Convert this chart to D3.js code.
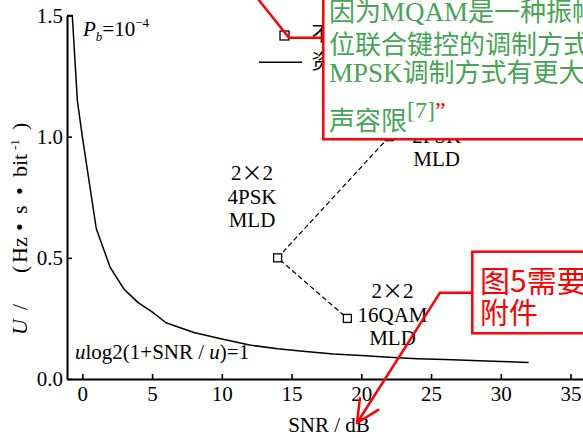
<!DOCTYPE html>
<html>
<head>
<meta charset="utf-8">
<script src="https://cdn.jsdelivr.net/npm/d3@7"></script>
<style>
  html, body { margin: 0; padding: 0; background: #fff; overflow: hidden; }
  svg { display: block; }
</style>
</head>
<body>
<svg id="chart" width="583" height="438"></svg>
<script>
// Shannon-type bound u·log2(1 + SNR/u) = 1, Pb = 1e-4
const snrDb = [-1.1, -0.72, -0.36, 0, 1, 2, 3, 4, 5, 6, 8, 10, 12, 14, 16, 18, 20, 22, 24, 26, 28, 30, 32];
const uBound = [1.5, 1.5, 1.15, 1.0, 0.62, 0.46, 0.37, 0.315, 0.277, 0.232, 0.192, 0.165, 0.14, 0.125, 0.113, 0.103, 0.097, 0.09, 0.084, 0.08, 0.076, 0.072, 0.068];

// 2x2 MIMO operating points (MLD detection)
const pointLabels = [["2×2", "2PSK", "MLD"], ["2×2", "4PSK", "MLD"], ["2×2", "16QAM", "MLD"]];
const pointSnr = [22, 14, 19];
const pointU = [1.0, 0.5, 0.25];

const xTicks = [0, 5, 10, 15, 20, 25, 30, 35];
const yTicks = [0, 0.5, 1.0, 1.5];
const yTickLabels = ["0.0", "0.5", "1.0", "1.5"];

const legendItems = ["不同调制方式的仿真结果", "资源受限时的理论下限"];
const noteLines = ["因为MQAM是一种振幅相", "位联合键控的调制方式，它比", "MPSK调制方式有更大的噪", "声容限"];
const noteRef = "[7]";
const tagLines = ["图5需要附件", "附件"];

const svg = d3.select("#chart");
const x = d3.scaleLinear().domain([-1.1, 36.2]).range([67, 587.3]);
const y = d3.scaleLinear().domain([0, 1.5]).range([379, 15.5]);

const serif = '"Liberation Serif", "Times New Roman", serif';
const cjk = '"Noto Sans CJK SC", sans-serif';

// axes
const xAxis = d3.axisBottom(x).tickValues(xTicks).tickFormat(d3.format("d"))
  .tickSizeInner(-5).tickSizeOuter(0).tickPadding(7);
const yAxis = d3.axisLeft(y).tickValues(yTicks).tickFormat((d, i) => yTickLabels[i])
  .tickSizeInner(-5).tickSizeOuter(0).tickPadding(4);

const gx = svg.append("g").attr("transform", `translate(0,${y(0)})`).call(xAxis);
const gy = svg.append("g").attr("transform", `translate(${x(-1.1)},0)`).call(yAxis);
[gx, gy].forEach(g => {
  g.select(".domain").attr("stroke", "#000").attr("stroke-width", 2);
  g.selectAll(".tick line").attr("stroke", "#000").attr("stroke-width", 1.6);
  g.selectAll(".tick text").attr("fill", "#000").attr("font-family", serif).attr("font-size", 21);
});

// axis titles
svg.append("text").attr("x", 329).attr("y", 432).attr("font-family", serif)
  .attr("text-anchor", "middle").attr("font-size", 21).text("SNR / dB");

// y title, tokens laid out along the rotated baseline
const yl = svg.append("text").attr("transform", "translate(27,335) rotate(-90)")
  .attr("font-family", serif).attr("font-size", 22);
const yTokens = [
  { t: "U", at: 0, it: true }, { t: "/", at: 25 }, { t: "(", at: 62 }, { t: "Hz", at: 72 },
  { t: "•", at: 104 }, { t: "s", at: 121 }, { t: "•", at: 140 }, { t: "bit", at: 158 },
  { t: "-1", at: 185, sup: true }, { t: ")", at: 205 }
];
yTokens.forEach(k => {
  const ts = yl.append("tspan").attr("x", k.at).attr("y", k.sup ? -8 : 0).text(k.t);
  if (k.it) ts.attr("font-style", "italic");
  if (k.sup) ts.attr("font-size", 13);
});

// bound curve
svg.append("path")
  .datum(snrDb.map((s, i) => [s, uBound[i]]))
  .attr("fill", "none").attr("stroke", "#000").attr("stroke-width", 1.5)
  .attr("stroke-linejoin", "round")
  .attr("d", d3.line().x(d => x(d[0])).y(d => y(d[1])));

// dashed line through the MIMO points
svg.append("path")
  .datum(pointSnr.map((s, i) => [s, pointU[i]]))
  .attr("fill", "none").attr("stroke", "#000").attr("stroke-width", 1.2)
  .attr("stroke-dasharray", "5,3")
  .attr("d", d3.line().x(d => x(d[0])).y(d => y(d[1])));

svg.selectAll("rect.pt").data(pointSnr).join("rect").attr("class", "pt")
  .attr("x", d => x(d) - 4).attr("y", (d, i) => y(pointU[i]) - 4)
  .attr("width", 8).attr("height", 8)
  .attr("fill", "#fff").attr("stroke", "#000").attr("stroke-width", 1.3);

// point labels
const labelPos = [[436.7, 119], [252, 180], [392.5, 298]];
pointLabels.forEach((lines, i) => {
  const t = svg.append("text").attr("text-anchor", "middle")
    .attr("font-family", serif).attr("font-size", 21);
  lines.forEach((ln, j) => {
    const ts = t.append("tspan").attr("x", labelPos[i][0]).attr("y", labelPos[i][1] + j * 23.5);
    if (ln.includes("×")) {
      const parts = ln.split("×");
      ts.text(parts[0]);
      t.append("tspan").attr("font-family", cjk).text("×");
      t.append("tspan").text(parts[1]);
    } else ts.text(ln);
  });
});

// Pb annotation
const pb = svg.append("text").attr("x", 83).attr("y", 36).attr("font-family", serif).attr("font-size", 21);
pb.append("tspan").attr("font-style", "italic").text("P");
pb.append("tspan").attr("font-style", "italic").attr("font-size", 13).attr("dy", 5).text("b");
pb.append("tspan").attr("dy", -5).text("=10");
pb.append("tspan").attr("font-size", 13).attr("dy", -9).text("−4");

// curve equation
const eq = svg.append("text").attr("x", 75).attr("y", 359).attr("font-family", serif).attr("font-size", 21);
eq.append("tspan").attr("font-style", "italic").text("u");
eq.append("tspan").text("log2(1+SNR / ");
eq.append("tspan").attr("font-style", "italic").text("u");
eq.append("tspan").text(")=1");

// legend
svg.append("rect").attr("x", 280).attr("y", 31).attr("width", 9).attr("height", 9)
  .attr("fill", "#fff").attr("stroke", "#000").attr("stroke-width", 1.3);
svg.append("line").attr("x1", 259).attr("x2", 302).attr("y1", 62.3).attr("y2", 62.3)
  .attr("stroke", "#000").attr("stroke-width", 1.5);
legendItems.forEach((t, i) => {
  svg.append("text").attr("x", 311.5).attr("y", 41 + i * 28).attr("font-family", cjk)
    .attr("font-size", 20).text(t);
});

// review callout: quoted note
const red = "#ff0000", green = "#45a553";
svg.append("polyline").attr("points", "254,-6 289,37.7 324,37.7")
  .attr("fill", "none").attr("stroke", red).attr("stroke-width", 2.5);
svg.append("rect").attr("x", 323.3).attr("y", -10).attr("width", 300).attr("height", 149.3)
  .attr("fill", "#fff").attr("stroke", red).attr("stroke-width", 2.5);

const noteBase = [21, 54, 82, 130];
noteLines.forEach((ln, i) => {
  const t = svg.append("text").attr("x", 329).attr("y", noteBase[i]).attr("fill", green)
    .attr("font-family", cjk).attr("font-size", 26);
  // Latin runs are set in the serif face
  ln.split(/([A-Za-z]+)/).filter(s => s.length).forEach(seg => {
    if (/^[A-Za-z]+$/.test(seg)) t.append("tspan").attr("font-family", serif).attr("font-size", 27).text(seg);
    else t.append("tspan").text(seg);
  });
  if (i === noteLines.length - 1) {
    t.append("tspan").attr("font-family", serif).attr("font-size", 24).attr("dy", -12).text(noteRef);
    t.append("tspan").attr("font-family", serif).attr("font-size", 24).attr("fill", red).text("”");
  }
});

// review callout: attachment tag with arrow
const tip = [357, 423], elbow = [440, 292.7];
svg.append("polyline").attr("points", `472,292.7 ${elbow} ${tip}`)
  .attr("fill", "none").attr("stroke", red).attr("stroke-width", 2.5);
const ang = Math.atan2(elbow[1] - tip[1], elbow[0] - tip[0]);
[-0.45, 0.45].forEach(da => {
  svg.append("line").attr("x1", tip[0]).attr("y1", tip[1])
    .attr("x2", tip[0] + 25 * Math.cos(ang + da)).attr("y2", tip[1] + 25 * Math.sin(ang + da))
    .attr("stroke", red).attr("stroke-width", 2.5).attr("stroke-linecap", "round");
});
svg.append("rect").attr("x", 472.3).attr("y", 251.7).attr("width", 150).attr("height", 81.6)
  .attr("fill", "#fff").attr("stroke", red).attr("stroke-width", 2.5);
svg.append("text").attr("x", 480).attr("y", 292).attr("fill", red).attr("font-family", cjk)
  .attr("font-size", 30).text(tagLines[0]);
svg.append("text").attr("x", 480).attr("y", 324).attr("fill", red).attr("font-family", cjk)
  .attr("font-size", 29).text(tagLines[1]);
</script>
</body>
</html>
